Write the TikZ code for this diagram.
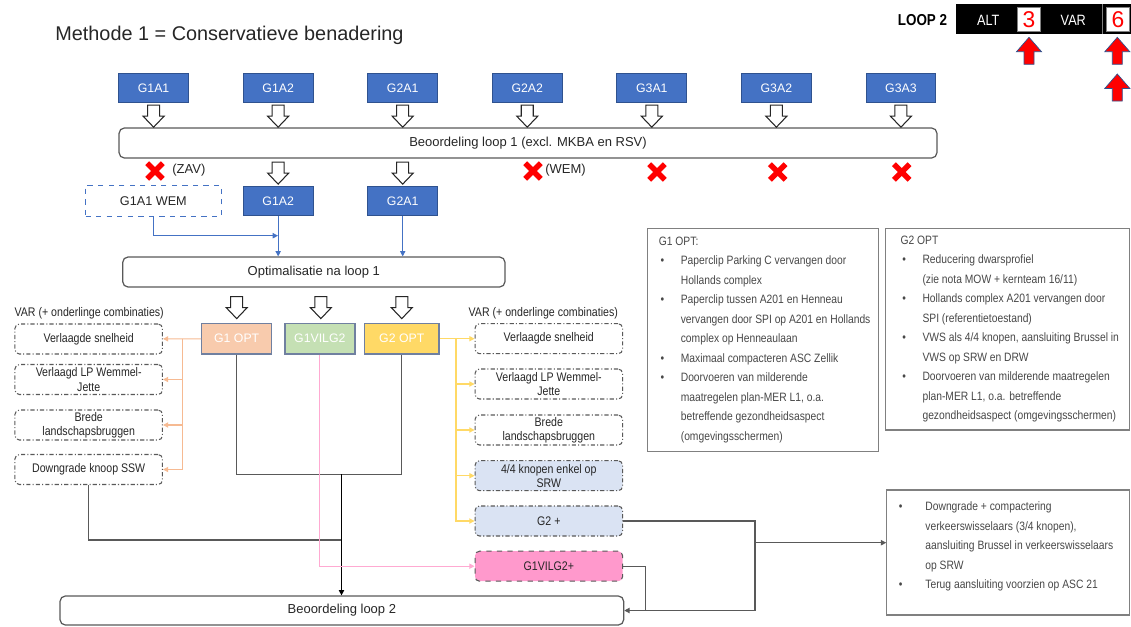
\documentclass[tikz,border=0pt]{standalone}
\usepackage{fontspec}
\setmainfont{Liberation Sans}
\newfontfamily\narrowsf{Liberation Sans}[FakeStretch=0.85]
\usetikzlibrary{positioning,calc,arrows.meta}

\definecolor{boxblue}{RGB}{68,114,196}
\definecolor{boxedge}{RGB}{47,82,143}
\definecolor{optedge}{RGB}{112,128,160}
\definecolor{peach}{RGB}{248,203,173}
\definecolor{peachline}{RGB}{246,186,146}
\definecolor{lgreen}{RGB}{197,224,180}
\definecolor{gold}{RGB}{255,217,102}
\definecolor{paleblue}{RGB}{218,227,243}
\definecolor{pinkfill}{RGB}{255,153,204}
\definecolor{pinkline}{RGB}{255,170,210}
\definecolor{darkline}{RGB}{89,89,89}
\definecolor{txt}{RGB}{38,38,38}

\newcommand{\obul}[1][12.5pt]{\makebox[#1][l]{\hspace{1pt}\textbullet}}
\newcommand{\oind}[1][12.5pt]{\hspace*{#1}}

\begin{document}
\begin{tikzpicture}[x=0.02cm, y=-0.02cm, >={Triangle[length=3pt,width=3pt]},
    every node/.style={text=txt},
    gbox/.style={draw=boxedge, line width=0.5pt, fill=boxblue, text=white, minimum width=1.4cm,
                 minimum height=0.57cm, inner sep=0, font=\fontsize{7}{8}\selectfont},
    wide/.style={draw=darkline, line width=0.7pt, rounded corners=3pt, fill=white, inner sep=0,
                 minimum height=0.6cm, font=\fontsize{7.4}{9}\selectfont},
    optbox/.style={draw=optedge, line width=0.8pt, text=white, minimum width=1.4cm,
                 minimum height=0.614cm, inner sep=0, font=\fontsize{7}{8}\selectfont},
    varbox/.style={draw=darkline, line width=0.6pt, dash pattern=on 2.4pt off 1.2pt on 0.6pt off 1.2pt,
                 rounded corners=2.5pt, minimum width=2.95cm, minimum height=0.6cm, inner sep=0,
                 align=center, font=\narrowsf\fontsize{7.1}{8.1}\selectfont},
    varlabel/.style={inner sep=0, font=\narrowsf\fontsize{7.1}{8.1}\selectfont},
    infobox/.style={draw=gray, line width=0.6pt, inner sep=0},
    infotext/.style={inner sep=0, align=left, anchor=west, text=txt!85,
                 font=\narrowsf\fontsize{6.9}{11.1}\selectfont},
    bluelink/.style={draw=boxblue, line width=0.5pt},
    peachlink/.style={draw=peachline, line width=0.6pt},
    goldlink/.style={draw=gold, line width=0.6pt},
    pinklink/.style={draw=pinkline, line width=0.6pt},
    greylink/.style={draw=darkline, line width=0.6pt},
    hollow/.pic={\draw[fill=white, draw=txt, line width=0.6pt] (-6,0) -- (6,0) -- (6,11) -- (10.5,11)
                 -- (0,22) -- (-10.5,11) -- (-6,11) -- cycle;},
    redcross/.pic={\draw[red, line width=3.1pt] (-7.8,-7.8) -- (7.8,7.8) (-7.8,7.8) -- (7.8,-7.8);},
    redup/.pic={\filldraw[fill=red, draw=boxedge, line width=0.4pt] (0,0) -- (12.5,14.4) -- (5,14.4)
                 -- (5,27) -- (-5,27) -- (-5,14.4) -- (-12.5,14.4) -- cycle;}]
  \useasboundingbox (0,0) rectangle (1131,626);

  \node[anchor=base west, inner sep=0, font=\fontsize{11.3}{13}\selectfont] (title) at (55,40.5)
       {Methode 1 = Conservatieve benadering};

  \fill[black] (956,4.3) rectangle (1131,34.3);
  \draw[gray, line width=0.5pt] (1102.7,4.3) -- (1102.7,34.3);
  \node[inner sep=0, text=black, font=\narrowsf\bfseries\fontsize{9}{10}\selectfont] (loophead) at (922.5,20) {LOOP 2};
  \node[inner sep=0, text=white, font=\narrowsf\fontsize{8.5}{10}\selectfont] (althead) at (988.3,20) {ALT};
  \node[draw=gray, fill=white, minimum width=0.468cm, minimum height=0.488cm, inner sep=0,
        text=red, font=\fontsize{13}{14}\selectfont] (altnum) at (1029,19.5) {3};
  \node[inner sep=0, text=white, font=\narrowsf\fontsize{8.5}{10}\selectfont] (varhead) at (1073.3,20) {VAR};
  \node[draw=gray, fill=white, minimum width=0.452cm, minimum height=0.488cm, inner sep=0,
        text=red, font=\fontsize{13}{14}\selectfont] (varnum) at (1118,19.5) {6};
  \pic at (1029,37.3) {redup};
  \pic at (1117.3,37.3) {redup};
  \pic at (1117.3,74) {redup};

  \node[gbox] (G1A1) at (153.6,88) {G1A1};
  \node[gbox] (G1A2) [right=1.074cm of G1A1] {G1A2};
  \node[gbox] (G2A1) [right=1.074cm of G1A2] {G2A1};
  \node[gbox] (G2A2) [right=1.074cm of G2A1] {G2A2};
  \node[gbox] (G3A1) [right=1.074cm of G2A2] {G3A1};
  \node[gbox] (G3A2) [right=1.074cm of G3A1] {G3A2};
  \node[gbox] (G3A3) [right=1.074cm of G3A2] {G3A3};

  \node[wide, minimum width=16.36cm] (loop1) at (528,143) {Beoordeling loop 1 (excl. MKBA en RSV)};

  \foreach \n in {G1A1,G1A2,G2A1,G2A2,G3A1,G3A2,G3A3}
    \pic at ($(\n.south)+(0,2.5)$) {hollow};

  \pic at (155,171) {redcross};
  \pic at (533,171) {redcross};
  \pic at (657,172) {redcross};
  \pic at (777.7,172) {redcross};
  \pic at (901.7,172) {redcross};
  \node[anchor=west, inner sep=0, font=\fontsize{7.4}{9}\selectfont] (zav) at (172,170) {(ZAV)};
  \node[anchor=west, inner sep=0, font=\fontsize{7.4}{9}\selectfont] (wem) at (545,170) {(WEM)};

  \node[gbox] (G1A2b) [below=1.67cm of G1A2] {G1A2};
  \node[gbox] (G2A1b) [below=1.67cm of G2A1] {G2A1};
  \node[draw=boxblue, dashed, line width=0.6pt, minimum width=2.714cm, minimum height=0.62cm, inner sep=0,
        font=\fontsize{7.2}{8}\selectfont] (WEM) [left=0.42cm of G1A2b] {G1A1 WEM};
  \pic at ($(loop1.south -| G1A2b)+(0,3.5)$) {hollow};
  \pic at ($(loop1.south -| G2A1b)+(0,3.5)$) {hollow};

  \node[wide, minimum width=7.646cm] (optim) at (313.85,272) {Optimalisatie na loop 1};
  \coordinate (wemjoin) at (278,235.7);
  \draw[bluelink, ->] (G1A2b) -- (G1A2b |- optim.north);
  \draw[bluelink, ->] (G2A1b) -- (G2A1b |- optim.north);
  \draw[bluelink, ->] (WEM) |- (wemjoin);

  \node[optbox, fill=peach] (G1OPT) at (236.7,338.7) {G1 OPT};
  \node[optbox, fill=lgreen] (G1VILG2) [right=0.235cm of G1OPT] {G1VILG2};
  \node[optbox, fill=gold, minimum width=1.492cm] (G2OPT) [right=0.165cm of G1VILG2] {G2 OPT};
  \pic at ($(optim.south -| G1OPT)+(0,9)$) {hollow};
  \pic at ($(optim.south)+(7,9)$) {hollow};
  \pic at ($(optim.south -| G2OPT)+(0,9)$) {hollow};

  \node[varlabel] (lvarlabel) at (89.2,313) {VAR (+ onderlinge combinaties)};
  \node[varbox] (lvar1) at (88.7,339)   {Verlaagde snelheid};
  \node[varbox] (lvar2) at (88.7,379.5) {Verlaagd LP Wemmel-\\Jette};
  \node[varbox] (lvar3) at (88.7,425)   {Brede\\landschapsbruggen};
  \node[varbox] (lvar4) at (88.7,469.5) {Downgrade knoop SSW};

  \node[varlabel] (rvarlabel) at (543.3,313) {VAR (+ onderlinge combinaties)};
  \node[varbox] (rvar1) at (548.8,338.7) {Verlaagde snelheid};
  \node[varbox] (rvar2) at (548.8,384)   {Verlaagd LP Wemmel-\\Jette};
  \node[varbox] (rvar3) at (548.8,430)   {Brede\\landschapsbruggen};
  \node[varbox, fill=paleblue] (rvar4) at (548.8,475.7) {4/4 knopen enkel op\\SRW};
  \node[varbox, fill=paleblue] (rvar5) at (548.8,521)   {G2 +};
  \node[varbox, fill=pinkfill, dashed] (rvar6) at (548.8,566.2) {G1VILG2+};

  \node[wide, minimum width=11.274cm, minimum height=0.58cm] (loop2) at (341.85,610.5) {Beoordeling loop 2};

  \coordinate (lsplit) at (182.7,338.7);
  \draw[peachlink, ->] (G1OPT) -- (lvar1);
  \foreach \b in {lvar2,lvar3,lvar4}
    \draw[peachlink, ->] (lsplit) |- (\b);

  \coordinate (rsplit) at (456,338.7);
  \draw[goldlink, ->] (G2OPT) -- (rvar1);
  \foreach \b in {rvar2,rvar3,rvar4,rvar5}
    \draw[goldlink, ->] (rsplit) |- (\b);

  \coordinate (optjoin) at (341.5,474.3);
  \coordinate (sswjoin) at (341.5,540);
  \draw[greylink] (G1OPT) |- (optjoin) -| (G2OPT);
  \draw[greylink] (lvar4) |- (sswjoin);
  \draw[draw=black, line width=0.6pt, ->] (optjoin) -- (optjoin |- loop2.north);
  \draw[pinklink, ->] (G1VILG2) |- (rvar6);

  \node[infobox, minimum width=4.628cm, minimum height=4.468cm] (g1info) at (763,340) {};
  \node[infotext] (g1text) at ($(g1info.west)+(11.7,0)$)
       {G1 OPT:\\
        \obul Paperclip Parking C vervangen door\\
        \oind Hollands complex\\
        \obul Paperclip tussen A201 en Henneau\\
        \oind vervangen door SPI op A201 en Hollands\\
        \oind complex op Henneaulaan\\
        \obul Maximaal compacteren ASC Zellik\\
        \obul Doorvoeren van milderende\\
        \oind maatregelen plan-MER L1, o.a.\\
        \oind betreffende gezondheidsaspect\\
        \oind (omgevingsschermen)};

  \node[infobox, minimum width=4.886cm, minimum height=4.034cm] (g2info) at (1007.15,329.15) {};
  \node[infotext] (g2text) at ($(g2info.west)+(15.7,0)$)
       {G2 OPT\\
        \obul Reducering dwarsprofiel\\
        \oind (zie nota MOW + kernteam 16/11)\\
        \obul Hollands complex A201 vervangen door\\
        \oind SPI (referentietoestand)\\
        \obul VWS als 4/4 knopen, aansluiting Brussel in\\
        \oind VWS op SRW en DRW\\
        \obul Doorvoeren van milderende maatregelen\\
        \oind plan-MER L1, o.a. betreffende\\
        \oind gezondheidsaspect (omgevingsschermen)};

  \node[infobox, minimum width=4.852cm, minimum height=2.5cm] (g2plusinfo) at (1008,552.5) {};
  \node[infotext] (g2plustext) at ($(g2plusinfo.west)+(10.5,-6)$)
       {\obul[14.5pt] Downgrade + compactering\\
        \oind[14.5pt] verkeerswisselaars (3/4 knopen),\\
        \oind[14.5pt] aansluiting Brussel in verkeerswisselaars\\
        \oind[14.5pt] op SRW\\
        \obul[14.5pt] Terug aansluiting voorzien op ASC 21};

  \coordinate (rjoin) at (645.7,610.5);
  \coordinate (g2split) at (755,542.7);
  \draw[greylink] (rvar6) -| (rjoin);
  \draw[greylink, ->] (rvar5) -| (g2split) |- (loop2.east);
  \draw[greylink, ->] (g2split) -- (g2split -| g2plusinfo.west);
\end{tikzpicture}
\end{document}
